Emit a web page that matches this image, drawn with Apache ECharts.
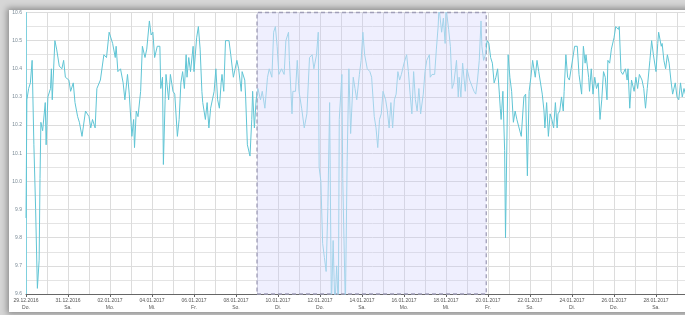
<!DOCTYPE html>
<html><head><meta charset="utf-8">
<script src="https://cdn.jsdelivr.net/npm/echarts@6/dist/echarts.min.js"></script>
<style>
html,body{margin:0;padding:0;width:685px;height:315px;overflow:hidden;background:#d6d6d6;}
#card{position:absolute;left:9px;top:10px;width:720px;height:302px;background:#fff;box-shadow:0 0 6px 2px rgba(0,0,0,0.35);}
#chart{width:720px;height:302px;}
</style></head><body><div id="card"><div id="chart"></div></div>
<script>
// hours since 29.12.2016 00:00
const hours = [0,1,3,5,7,9,11,13,15,16,17,19,22,23,25,28,29,30,33,35,38,41,43,45,49,51,54,56,59,61,64,68,72,74,76,79,81,85,89,92,95,99,102,103,105,108,111,113,116,118,121,123,124,126,128,131,133,136,138,141,143,145,147,150,153,154,156,157,159,160,163,165,168,170,173,175,177,179,181,183,184,186,188,191,192,195,197,199,201,202,205,207,209,211,213,215,217,219,221,223,224,226,228,232,234,237,239,241,243,246,247,250,251,253,256,258,259,261,263,265,268,270,273,276,278,281,283,285,287,289,292,295,297,300,301,304,305,308,310,312,315,318,321,324,327,329,332,334,335,337,339,341,343,345,347,349,351,353,355,357,358,361,362,365,367,369,371,374,376,378,381,383,385,387,390,393,395,398,400,402,404,406,408,411,413,415,417,419,421,423,425,427,429,432,435,437,439,441,443,445,447,449,451,454,456,458,461,462,464,467,469,471,472,475,477,479,480,483,485,487,489,492,494,495,497,499,502,504,507,509,512,514,516,518,520,521,523,525,527,529,531,533,535,537,539,541,542,543,545,547,548,549,551,553,555,557,559,561,563,566,569,571,573,575,577,579,582,584,586,588,590,592,593,595,597,599,601,603,605,607,608,610,612,614,615,617,619,621,623,625,627,630,632,635,637,639,640,643,644,646,648,650,652,654,656,658,660,662,664,665,667,669,672,674,677,678,680,682,685,687,688,690,692,695,697,699,701,704,706,708,710,713,715,717,720,722,723,726,727,729,731,733,735,737,739,742,744,746,748,750,752,756];
const values = [9.87,10.29,10.33,10.35,10.43,10.13,9.90,9.62,9.72,10.01,10.21,10.18,10.28,10.13,10.30,10.33,10.40,10.29,10.50,10.47,10.41,10.40,10.43,10.37,10.36,10.32,10.35,10.28,10.23,10.21,10.16,10.25,10.23,10.19,10.22,10.19,10.33,10.36,10.45,10.44,10.53,10.49,10.44,10.48,10.39,10.40,10.35,10.29,10.38,10.31,10.16,10.22,10.12,10.25,10.23,10.32,10.48,10.44,10.47,10.57,10.52,10.53,10.44,10.48,10.48,10.33,10.37,10.06,10.29,10.38,10.29,10.38,10.32,10.31,10.16,10.22,10.35,10.39,10.33,10.45,10.37,10.44,10.39,10.48,10.39,10.51,10.55,10.47,10.32,10.28,10.22,10.28,10.19,10.26,10.26,10.32,10.40,10.29,10.26,10.35,10.38,10.32,10.50,10.50,10.45,10.37,10.40,10.43,10.40,10.32,10.39,10.36,10.30,10.13,10.09,10.22,10.32,10.19,10.29,10.33,10.29,10.32,10.26,10.37,10.40,10.37,10.53,10.55,10.48,10.38,10.40,10.38,10.50,10.53,10.43,10.24,10.32,10.32,10.43,10.32,10.26,10.19,10.24,10.44,10.45,10.40,10.45,10.53,10.05,10.00,9.78,9.73,9.68,9.91,10.28,9.55,9.79,9.55,9.70,9.55,10.22,10.38,10.01,9.55,10.07,10.40,10.17,10.37,10.33,10.29,10.38,10.43,10.53,10.45,10.40,10.39,10.37,10.23,10.19,10.12,10.22,10.24,10.32,10.29,10.25,10.19,10.28,10.19,10.29,10.31,10.39,10.36,10.38,10.42,10.45,10.39,10.31,10.24,10.39,10.29,10.25,10.33,10.24,10.31,10.39,10.43,10.45,10.37,10.38,10.38,10.47,10.55,10.62,10.53,10.58,10.49,10.62,10.54,10.48,10.33,10.35,10.43,10.30,10.37,10.30,10.42,10.32,10.40,10.36,10.36,10.32,10.31,10.36,10.43,10.57,10.48,10.43,10.45,10.50,10.49,10.44,10.42,10.35,10.37,10.40,10.31,10.26,10.22,10.32,10.11,9.80,9.80,10.45,10.37,10.32,10.21,10.25,10.22,10.22,10.16,10.30,10.31,10.02,10.32,10.37,10.43,10.37,10.43,10.39,10.39,10.31,10.25,10.19,10.28,10.16,10.24,10.22,10.19,10.28,10.19,10.24,10.25,10.30,10.25,10.32,10.45,10.37,10.36,10.40,10.40,10.48,10.48,10.38,10.31,10.48,10.42,10.45,10.37,10.32,10.40,10.31,10.37,10.33,10.35,10.22,10.29,10.39,10.37,10.29,10.43,10.42,10.47,10.51,10.55,10.54,10.55,10.39,10.38,10.40,10.36,10.40,10.26,10.36,10.32,10.37,10.33,10.38,10.36,10.33,10.26,10.33,10.43,10.50,10.45,10.39,10.49,10.53,10.48,10.49,10.43,10.40,10.45,10.42,10.36,10.31,10.35,10.30,10.29,10.35,10.30,10.33,10.28];
const highlightRange = [264, 526];
const weekdays = ['So.','Mo.','Di.','Mi.','Do.','Fr.','Sa.'];
const yMin = 9.6, yMax = 10.6, yStep = 0.1;
const xMin = 0, xMax = 792, xStep = 48;

function pad(n){return (n<10?'0':'')+n;}
function fmtHour(h){
  const d = new Date(2016, 11, 29 + Math.round(h/24));
  return pad(d.getDate())+'.'+pad(d.getMonth()+1)+'.'+d.getFullYear()+'\n'+weekdays[d.getDay()];
}
const data = hours.map((h,i)=>[h, values[i]]);
const chart = echarts.init(document.getElementById('chart'), null, {renderer:'canvas'});
chart.setOption({
  animation:false,
  grid:{left:17, top:2, right:10, bottom:18, containLabel:false},
  xAxis:{
    type:'value', min:xMin, max:xMax, interval:xStep,
    axisLine:{show:true, lineStyle:{color:'#666', width:1}},
    axisTick:{show:true, length:3, lineStyle:{color:'#666'}},
    axisLabel:{fontSize:5, lineHeight:7, color:'#555', margin:3, formatter:fmtHour, fontFamily:'Liberation Sans'},
    splitLine:{show:true, lineStyle:{color:'#dcdcdc', width:1}},
    minorTick:{show:false, splitNumber:2},
    minorSplitLine:{show:true, lineStyle:{color:'#dcdcdc', width:1}}
  },
  yAxis:{
    type:'value', min:yMin, max:yMax, interval:yStep,
    axisLine:{show:true, lineStyle:{color:'#7fd0de', width:1}},
    axisTick:{show:false},
    axisLabel:{fontSize:5, color:'#7a8a96', margin:4, formatter:v=>v.toFixed(1), fontFamily:'Liberation Sans'},
    splitLine:{show:true, lineStyle:{color:'#dcdcdc', width:1}},
    minorTick:{show:false, splitNumber:2},
    minorSplitLine:{show:true, lineStyle:{color:'#e4e4e4', width:1}}
  },
  visualMap:{
    show:false, type:'piecewise', dimension:0, seriesIndex:0,
    pieces:[
      {lt:highlightRange[0], color:'#5fc4d4'},
      {gte:highlightRange[0], lt:highlightRange[1], color:'#a3d3ea'},
      {gte:highlightRange[1], color:'#5fc4d4'}
    ]
  },
  series:[{
    type:'line', data:data, showSymbol:false, symbol:'none',
    lineStyle:{width:1},
    clip:true,
    markArea:{
      silent:true,
      itemStyle:{color:'rgba(195,195,250,0.26)', borderColor:'#a09eb8', borderWidth:1.3, borderType:[4,3]},
      data:[[{xAxis:highlightRange[0]},{xAxis:highlightRange[1]}]]
    }
  }]
});
</script></body></html>
